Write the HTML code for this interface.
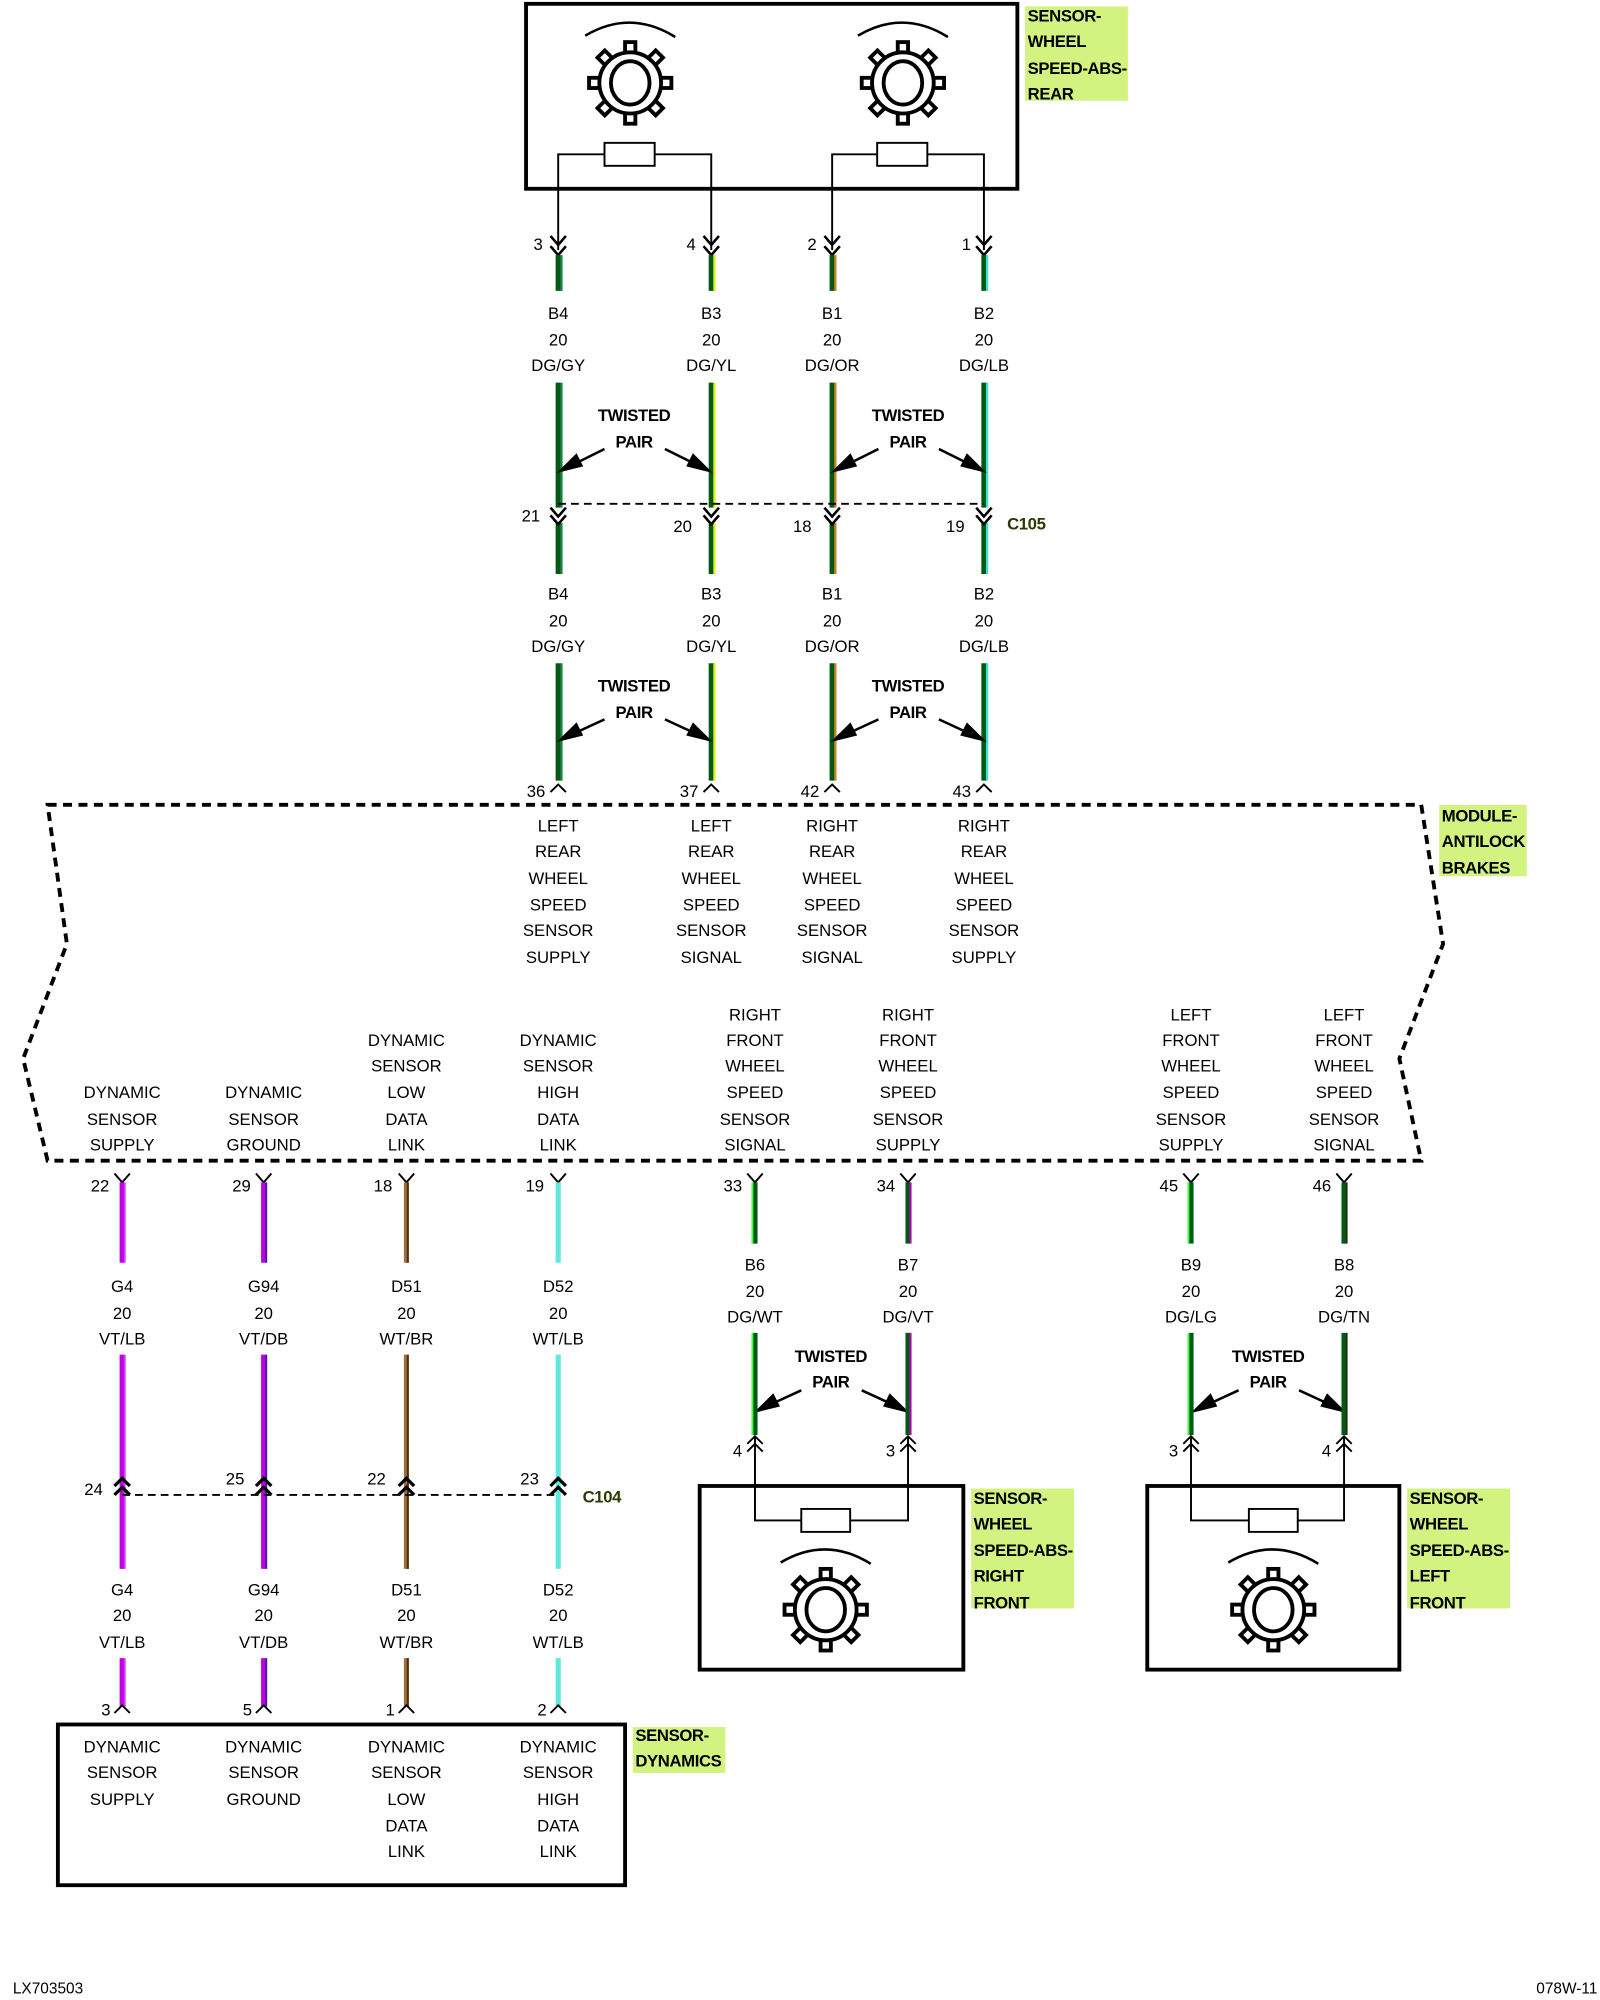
<!DOCTYPE html>
<html><head><meta charset="utf-8"><style>
html,body{margin:0;padding:0;background:#fff}
svg{display:block}
text{font-family:"Liberation Sans",sans-serif;font-size:13px;fill:#000}
.c{text-anchor:middle}
.b{font-weight:bold;font-size:13px;letter-spacing:-0.3px}
.r{text-anchor:end}
</style></head><body>
<svg width="1600" height="2000" viewBox="0 0 1244 1568" preserveAspectRatio="none" xmlns="http://www.w3.org/2000/svg">
<defs>
<g id="gear">
<g fill="#fff" stroke="#000" stroke-width="3">
<rect x="-4" y="-32" width="8" height="11" transform="rotate(0)"/>
<rect x="-4" y="-32" width="8" height="11" transform="rotate(45)"/>
<rect x="-4" y="-32" width="8" height="11" transform="rotate(90)"/>
<rect x="-4" y="-32" width="8" height="11" transform="rotate(135)"/>
<rect x="-4" y="-32" width="8" height="11" transform="rotate(180)"/>
<rect x="-4" y="-32" width="8" height="11" transform="rotate(225)"/>
<rect x="-4" y="-32" width="8" height="11" transform="rotate(270)"/>
<rect x="-4" y="-32" width="8" height="11" transform="rotate(315)"/>
<circle r="24"/>
<ellipse rx="15" ry="17"/>
</g>
<path d="M-35,-37 Q0,-58 35,-36" fill="none" stroke="#000" stroke-width="2"/>
</g>
</defs>

<!-- Top rear sensor box -->
<rect x="409" y="3" width="382" height="145" fill="none" stroke="#000" stroke-width="3"/>
<use href="#gear" x="490" y="65"/>
<use href="#gear" x="702" y="65"/>
<g fill="none" stroke="#000" stroke-width="1.5">
<path d="M434,196 V121 H470 M509,121 H553 V196"/>
<rect x="470" y="112" width="39" height="18" fill="#fff"/>
<path d="M647,196 V121 H682 M721,121 H765 V196"/>
<rect x="682" y="112" width="39" height="18" fill="#fff"/>
</g>
<g fill="none" stroke="#000" stroke-width="2">
<path d="M428,185 l6,7 l6,-7 M428,193 l6,7 l6,-7"/>
<path d="M547,185 l6,7 l6,-7 M547,193 l6,7 l6,-7"/>
<path d="M641,185 l6,7 l6,-7 M641,193 l6,7 l6,-7"/>
<path d="M759,185 l6,7 l6,-7 M759,193 l6,7 l6,-7"/>
</g>
<text x="422" y="196" class="r">3</text><text x="541" y="196" class="r">4</text>
<text x="635" y="196" class="r">2</text><text x="755" y="196" class="r">1</text>
<rect x="797" y="5" width="80" height="74" fill="#c8f060" opacity="0.8"/>
<g class="b"><text x="799" y="17" class="b">SENSOR-</text><text x="799" y="37" class="b">WHEEL</text><text x="799" y="58" class="b">SPEED-ABS-</text><text x="799" y="78" class="b">REAR</text></g>

<!-- rear wires -->
<g stroke-width="4" fill="none">
<path d="M434,200V228M434,300V398M434,410V450M434,520V612" stroke="#005a14"/>
<path d="M553,200V228M553,300V398M553,410V450M553,520V612" stroke="#005a14"/>
<path d="M647,200V228M647,300V398M647,410V450M647,520V612" stroke="#005a14"/>
<path d="M765,200V228M765,300V398M765,410V450M765,520V612" stroke="#005a14"/>
</g>
<g stroke-width="1.8" fill="none">
<path d="M555.5,200V228M555.5,300V398M555.5,410V450M555.5,520V612" stroke="#f0f000"/>
<path d="M649.5,200V228M649.5,300V398M649.5,410V450M649.5,520V612" stroke="#d08020"/>
<path d="M767.5,200V228M767.5,300V398M767.5,410V450M767.5,520V612" stroke="#40e0d0"/>
<path d="M436.5,200V228M436.5,300V398M436.5,410V450M436.5,520V612" stroke="#208040"/>
</g>
<g class="c">
<text x="434" y="250">B4</text><text x="553" y="250">B3</text><text x="647" y="250">B1</text><text x="765" y="250">B2</text>
<text x="434" y="271">20</text><text x="553" y="271">20</text><text x="647" y="271">20</text><text x="765" y="271">20</text>
<text x="434" y="291">DG/GY</text><text x="553" y="291">DG/YL</text><text x="647" y="291">DG/OR</text><text x="765" y="291">DG/LB</text>
<text x="434" y="470">B4</text><text x="553" y="470">B3</text><text x="647" y="470">B1</text><text x="765" y="470">B2</text>
<text x="434" y="491">20</text><text x="553" y="491">20</text><text x="647" y="491">20</text><text x="765" y="491">20</text>
<text x="434" y="511">DG/GY</text><text x="553" y="511">DG/YL</text><text x="647" y="511">DG/OR</text><text x="765" y="511">DG/LB</text>
</g>
<!-- C105 -->
<path d="M434,395H765" stroke="#000" stroke-width="1.5" stroke-dasharray="6,4"/>
<g fill="none" stroke="#000" stroke-width="2">
<path d="M428,398 l6,7 l6,-7 M428,404 l6,7 l6,-7"/>
<path d="M547,398 l6,7 l6,-7 M547,404 l6,7 l6,-7"/>
<path d="M641,398 l6,7 l6,-7 M641,404 l6,7 l6,-7"/>
<path d="M759,398 l6,7 l6,-7 M759,404 l6,7 l6,-7"/>
</g>
<text x="420" y="409" class="r">21</text><text x="538" y="417" class="r">20</text><text x="631" y="417" class="r">18</text><text x="750" y="417" class="r">19</text>
<text x="783" y="415" class="b" style="fill:#2a3a00">C105</text>

<g class="c b"><text x="493" y="330" class="c b">TWISTED</text><text x="493" y="351" class="c b">PAIR</text>
<text x="706" y="330" class="c b">TWISTED</text><text x="706" y="351" class="c b">PAIR</text>
<text x="493" y="542" class="c b">TWISTED</text><text x="493" y="563" class="c b">PAIR</text>
<text x="706" y="542" class="c b">TWISTED</text><text x="706" y="563" class="c b">PAIR</text>
<text x="646" y="1068" class="c b">TWISTED</text><text x="646" y="1088" class="c b">PAIR</text>
<text x="986" y="1068" class="c b">TWISTED</text><text x="986" y="1088" class="c b">PAIR</text></g>
<g stroke="#000" stroke-width="2" fill="#000">
<path d="M470,352 L442,366" fill="none"/><path d="M436,369 l12,-12 l4,8z"/>
<path d="M517,352 L545,366" fill="none"/><path d="M551,369 l-12,-12 l-4,8z"/>
<path d="M683,352 L655,366" fill="none"/><path d="M649,369 l12,-12 l4,8z"/>
<path d="M730,352 L758,366" fill="none"/><path d="M764,369 l-12,-12 l-4,8z"/>
<path d="M470,564 L442,577" fill="none"/><path d="M436,580 l12,-12 l4,8z"/>
<path d="M517,564 L545,577" fill="none"/><path d="M551,580 l-12,-12 l-4,8z"/>
<path d="M683,564 L655,577" fill="none"/><path d="M649,580 l12,-12 l4,8z"/>
<path d="M730,564 L758,577" fill="none"/><path d="M764,580 l-12,-12 l-4,8z"/>
<path d="M623,1090 L595,1103" fill="none"/><path d="M589,1106 l12,-12 l4,8z"/>
<path d="M670,1090 L698,1103" fill="none"/><path d="M704,1106 l-12,-12 l-4,8z"/>
<path d="M963,1090 L935,1103" fill="none"/><path d="M929,1106 l12,-12 l4,8z"/>
<path d="M1010,1090 L1038,1103" fill="none"/><path d="M1044,1106 l-12,-12 l-4,8z"/>
</g>
<g fill="none" stroke="#000" stroke-width="1.5">
<path d="M428,621 l6,-6 l6,6"/><path d="M547,621 l6,-6 l6,6"/><path d="M641,621 l6,-6 l6,6"/><path d="M759,621 l6,-6 l6,6"/>
</g>
<text x="424" y="625" class="r">36</text><text x="543" y="625" class="r">37</text><text x="637" y="625" class="r">42</text><text x="755" y="625" class="r">43</text>

<!-- module outline -->
<path d="M37,631 H1105 L1122,740 L1088,830 L1105,910 H37 L18,830 L52,740 Z" fill="none" stroke="#000" stroke-width="3" stroke-dasharray="7,5"/>
<rect x="1119" y="631" width="68" height="56" fill="#c8f060" opacity="0.8"/>
<text x="1121" y="644" class="b">MODULE-</text><text x="1121" y="664" class="b">ANTILOCK</text><text x="1121" y="685" class="b">BRAKES</text>

<g class="c">
<text x="434" y="652">LEFT</text><text x="434" y="672">REAR</text><text x="434" y="693">WHEEL</text><text x="434" y="714">SPEED</text><text x="434" y="734">SENSOR</text><text x="434" y="755">SUPPLY</text>
<text x="553" y="652">LEFT</text><text x="553" y="672">REAR</text><text x="553" y="693">WHEEL</text><text x="553" y="714">SPEED</text><text x="553" y="734">SENSOR</text><text x="553" y="755">SIGNAL</text>
<text x="647" y="652">RIGHT</text><text x="647" y="672">REAR</text><text x="647" y="693">WHEEL</text><text x="647" y="714">SPEED</text><text x="647" y="734">SENSOR</text><text x="647" y="755">SIGNAL</text>
<text x="765" y="652">RIGHT</text><text x="765" y="672">REAR</text><text x="765" y="693">WHEEL</text><text x="765" y="714">SPEED</text><text x="765" y="734">SENSOR</text><text x="765" y="755">SUPPLY</text>

<text x="95" y="861">DYNAMIC</text><text x="95" y="882">SENSOR</text><text x="95" y="902">SUPPLY</text>
<text x="205" y="861">DYNAMIC</text><text x="205" y="882">SENSOR</text><text x="205" y="902">GROUND</text>
<text x="316" y="820">DYNAMIC</text><text x="316" y="840">SENSOR</text><text x="316" y="861">LOW</text><text x="316" y="882">DATA</text><text x="316" y="902">LINK</text>
<text x="434" y="820">DYNAMIC</text><text x="434" y="840">SENSOR</text><text x="434" y="861">HIGH</text><text x="434" y="882">DATA</text><text x="434" y="902">LINK</text>
<text x="587" y="800">RIGHT</text><text x="587" y="820">FRONT</text><text x="587" y="840">WHEEL</text><text x="587" y="861">SPEED</text><text x="587" y="882">SENSOR</text><text x="587" y="902">SIGNAL</text>
<text x="706" y="800">RIGHT</text><text x="706" y="820">FRONT</text><text x="706" y="840">WHEEL</text><text x="706" y="861">SPEED</text><text x="706" y="882">SENSOR</text><text x="706" y="902">SUPPLY</text>
<text x="926" y="800">LEFT</text><text x="926" y="820">FRONT</text><text x="926" y="840">WHEEL</text><text x="926" y="861">SPEED</text><text x="926" y="882">SENSOR</text><text x="926" y="902">SUPPLY</text>
<text x="1045" y="800">LEFT</text><text x="1045" y="820">FRONT</text><text x="1045" y="840">WHEEL</text><text x="1045" y="861">SPEED</text><text x="1045" y="882">SENSOR</text><text x="1045" y="902">SIGNAL</text>
</g>

<g fill="none" stroke="#000" stroke-width="1.5">
<path d="M89,920 l6,7 l6,-7"/><path d="M199,920 l6,7 l6,-7"/><path d="M310,920 l6,7 l6,-7"/><path d="M428,920 l6,7 l6,-7"/>
<path d="M581,920 l6,7 l6,-7"/><path d="M700,920 l6,7 l6,-7"/><path d="M920,920 l6,7 l6,-7"/><path d="M1039,920 l6,7 l6,-7"/>
</g>
<text x="85" y="934" class="r">22</text><text x="195" y="934" class="r">29</text><text x="305" y="934" class="r">18</text><text x="423" y="934" class="r">19</text>
<text x="577" y="934" class="r">33</text><text x="696" y="934" class="r">34</text><text x="916" y="934" class="r">45</text><text x="1035" y="934" class="r">46</text>

<g stroke-width="4" fill="none">
<path d="M95,927V990M95,1062V1230M95,1300V1338" stroke="#c000e0"/>
<path d="M205,927V990M205,1062V1230M205,1300V1338" stroke="#c000e0"/>
<path d="M316,927V990M316,1062V1230M316,1300V1338" stroke="#a07040"/>
<path d="M434,927V990M434,1062V1230M434,1300V1338" stroke="#60e8e0"/>
</g>
<g stroke-width="1.5" fill="none">
<path d="M97,927V990M97,1062V1230M97,1300V1338" stroke="#d040ff"/>
<path d="M207,927V990M207,1062V1230M207,1300V1338" stroke="#4020a0"/>
<path d="M317,927V990M317,1062V1230M317,1300V1338" stroke="#503010"/>
</g>
<g class="c">
<text x="95" y="1013">G4</text><text x="205" y="1013">G94</text><text x="316" y="1013">D51</text><text x="434" y="1013">D52</text>
<text x="95" y="1034">20</text><text x="205" y="1034">20</text><text x="316" y="1034">20</text><text x="434" y="1034">20</text>
<text x="95" y="1054">VT/LB</text><text x="205" y="1054">VT/DB</text><text x="316" y="1054">WT/BR</text><text x="434" y="1054">WT/LB</text>
<text x="95" y="1251">G4</text><text x="205" y="1251">G94</text><text x="316" y="1251">D51</text><text x="434" y="1251">D52</text>
<text x="95" y="1271">20</text><text x="205" y="1271">20</text><text x="316" y="1271">20</text><text x="434" y="1271">20</text>
<text x="95" y="1292">VT/LB</text><text x="205" y="1292">VT/DB</text><text x="316" y="1292">WT/BR</text><text x="434" y="1292">WT/LB</text>
</g>
<path d="M95,1172H434" stroke="#000" stroke-width="1.5" stroke-dasharray="6,4"/>
<g fill="none" stroke="#000" stroke-width="2.5">
<path d="M89,1165 l6,-6 l6,6 M89,1172 l6,-6 l6,6"/>
<path d="M199,1165 l6,-6 l6,6 M199,1172 l6,-6 l6,6"/>
<path d="M310,1165 l6,-6 l6,6 M310,1172 l6,-6 l6,6"/>
<path d="M428,1165 l6,-6 l6,6 M428,1172 l6,-6 l6,6"/>
</g>
<text x="80" y="1172" class="r">24</text><text x="190" y="1164" class="r">25</text><text x="300" y="1164" class="r">22</text><text x="419" y="1164" class="r">23</text>
<text x="453" y="1178" class="b" style="fill:#2a3a00">C104</text>
<g fill="none" stroke="#000" stroke-width="1.5">
<path d="M89,1343 l6,-6 l6,6"/><path d="M199,1343 l6,-6 l6,6"/><path d="M310,1343 l6,-6 l6,6"/><path d="M428,1343 l6,-6 l6,6"/>
</g>
<text x="86" y="1345" class="r">3</text><text x="196" y="1345" class="r">5</text><text x="307" y="1345" class="r">1</text><text x="425" y="1345" class="r">2</text>

<rect x="45" y="1352" width="441" height="126" fill="none" stroke="#000" stroke-width="3"/>
<g class="c">
<text x="95" y="1374">DYNAMIC</text><text x="95" y="1394">SENSOR</text><text x="95" y="1415">SUPPLY</text>
<text x="205" y="1374">DYNAMIC</text><text x="205" y="1394">SENSOR</text><text x="205" y="1415">GROUND</text>
<text x="316" y="1374">DYNAMIC</text><text x="316" y="1394">SENSOR</text><text x="316" y="1415">LOW</text><text x="316" y="1436">DATA</text><text x="316" y="1456">LINK</text>
<text x="434" y="1374">DYNAMIC</text><text x="434" y="1394">SENSOR</text><text x="434" y="1415">HIGH</text><text x="434" y="1436">DATA</text><text x="434" y="1456">LINK</text>
</g>
<rect x="492" y="1354" width="72" height="36" fill="#c8f060" opacity="0.8"/>
<text x="494" y="1365" class="b">SENSOR-</text><text x="494" y="1385" class="b">DYNAMICS</text>

<g stroke-width="4" fill="none" stroke="#005a14">
<path d="M587,927V975M587,1045V1125"/><path d="M706,927V975M706,1045V1125"/>
<path d="M926,927V975M926,1045V1125"/><path d="M1045,927V975M1045,1045V1125"/>
</g>
<g stroke-width="1.5" fill="none">
<path d="M585,927V975M585,1045V1125" stroke="#40ff40"/>
<path d="M708,927V975M708,1045V1125" stroke="#c000c0"/>
<path d="M924,927V975M924,1045V1125" stroke="#40ff40"/>
<path d="M1047,927V975M1047,1045V1125" stroke="#203010"/>
</g>
<g class="c">
<text x="587" y="996">B6</text><text x="706" y="996">B7</text><text x="926" y="996">B9</text><text x="1045" y="996">B8</text>
<text x="587" y="1017">20</text><text x="706" y="1017">20</text><text x="926" y="1017">20</text><text x="1045" y="1017">20</text>
<text x="587" y="1037">DG/WT</text><text x="706" y="1037">DG/VT</text><text x="926" y="1037">DG/LG</text><text x="1045" y="1037">DG/TN</text>
</g>
<g fill="none" stroke="#000" stroke-width="1.5">
<path d="M581,1132 l6,-6 l6,6 M581,1138 l6,-6 l6,6 M587,1127 V1192 H623 M661,1192 H706 V1127"/>
<path d="M700,1132 l6,-6 l6,6 M700,1138 l6,-6 l6,6"/>
<path d="M920,1132 l6,-6 l6,6 M920,1138 l6,-6 l6,6 M926,1127 V1192 H971 M1009,1192 H1045 V1127"/>
<path d="M1039,1132 l6,-6 l6,6 M1039,1138 l6,-6 l6,6"/>
<rect x="623" y="1183" width="38" height="18" fill="#fff"/>
<rect x="971" y="1183" width="38" height="18" fill="#fff"/>
</g>
<text x="577" y="1142" class="r">4</text><text x="696" y="1142" class="r">3</text><text x="916" y="1142" class="r">3</text><text x="1035" y="1142" class="r">4</text>
<rect x="544" y="1165" width="205" height="144" fill="none" stroke="#000" stroke-width="3"/>
<rect x="892" y="1165" width="196" height="144" fill="none" stroke="#000" stroke-width="3"/>
<use href="#gear" x="642" y="1262"/>
<use href="#gear" x="990" y="1262"/>
<rect x="755" y="1167" width="80" height="94" fill="#c8f060" opacity="0.8"/>
<text x="757" y="1179" class="b">SENSOR-</text><text x="757" y="1199" class="b">WHEEL</text><text x="757" y="1220" class="b">SPEED-ABS-</text><text x="757" y="1240" class="b">RIGHT</text><text x="757" y="1261" class="b">FRONT</text>
<rect x="1094" y="1167" width="80" height="94" fill="#c8f060" opacity="0.8"/>
<text x="1096" y="1179" class="b">SENSOR-</text><text x="1096" y="1199" class="b">WHEEL</text><text x="1096" y="1220" class="b">SPEED-ABS-</text><text x="1096" y="1240" class="b">LEFT</text><text x="1096" y="1261" class="b">FRONT</text>

<text x="10" y="1563" style="font-size:12px">LX703503</text>
<text x="1242" y="1563" class="r" style="font-size:12px">078W-11</text>
</svg>
</body></html>
